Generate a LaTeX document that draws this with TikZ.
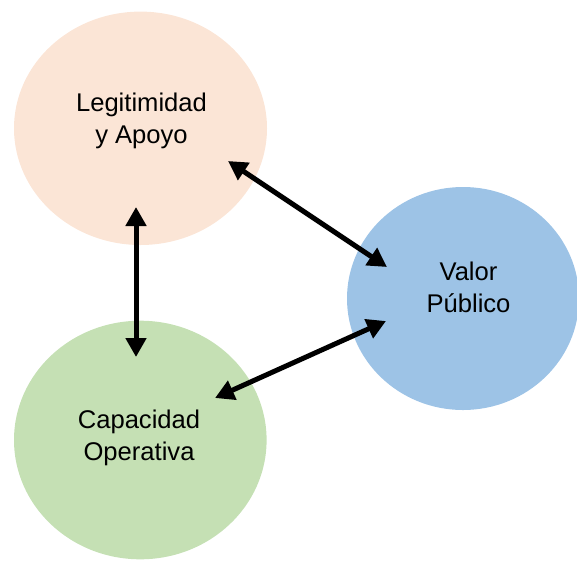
\documentclass[tikz,border=0pt]{standalone}
\usepackage{fontspec}
\setmainfont{Liberation Sans}
\usetikzlibrary{arrows.meta}
\definecolor{peach}{HTML}{FBE5D6}
\definecolor{leaf}{HTML}{C5E0B4}
\definecolor{sky}{HTML}{9DC3E6}
\tikzset{
  lbl/.style={anchor=north, inner sep=0pt, align=center, font=\fontsize{25.6}{32.6}\selectfont},
  link/.style={line width=5pt, {Triangle[length=19pt,width=20pt]}-{Triangle[length=19pt,width=20pt]}}
}
\begin{document}
\begin{tikzpicture}[x=1pt,y=-1pt]
\useasboundingbox (0,0) rectangle (577,560);
\begin{scope}
\clip (0,0) rectangle (577,560);
\fill[peach] (140.5,128.3) ellipse [x radius=126.5, y radius=116.7];
\fill[leaf] (140.3,440) ellipse [x radius=126.3, y radius=119.3];
\fill[sky] (463,298.5) ellipse [x radius=116, y radius=111.5];
\end{scope}
\node[lbl] (legit) at (141.5,92.5) {Legitimidad\\y Apoyo};
\node[lbl] (capac) at (139,409.3) {Capacidad\\Operativa};
\node[lbl] (valor) at (468.5,261.5) {Valor\\Público};
\coordinate (a1) at (136,207);
\coordinate (a2) at (136,357);
\coordinate (b1) at (228,161);
\coordinate (b2) at (387,267);
\coordinate (c1) at (386,321);
\coordinate (c2) at (215,398);
\draw[link] (a1) -- (a2);
\draw[link] (b1) -- (b2);
\draw[link] (c1) -- (c2);
\end{tikzpicture}
\end{document}
